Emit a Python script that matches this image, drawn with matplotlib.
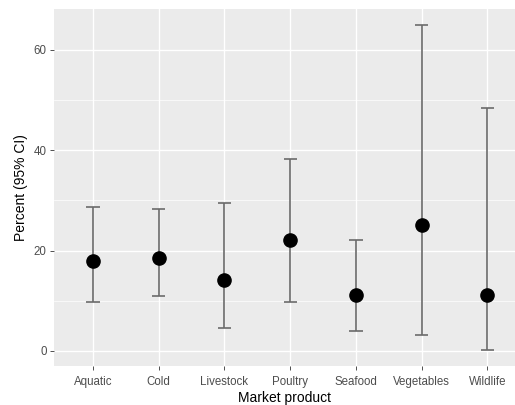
import matplotlib
matplotlib.use("Agg")
import numpy as np
from matplotlib import pyplot as plt
from matplotlib.ticker import MultipleLocator

# Values
products = ["Aquatic", "Cold", "Livestock", "Poultry", "Seafood", "Vegetables", "Wildlife"]
percent = [17.9, 18.5, 14.2, 22.1, 11.2, 25.1, 11.2]
ci_low = [9.8, 11.0, 4.5, 9.8, 4.0, 3.2, 0.2]
ci_high = [28.6, 28.2, 29.4, 38.3, 22.0, 65.0, 48.4]

plt.rcParams["font.family"] = ["Liberation Sans", "DejaVu Sans"]

fig = plt.figure(figsize=(5.15, 4.05), dpi=100)
ax = fig.add_axes([0.104, 0.096, 0.896, 0.883])
ax.set_facecolor("#EBEBEB")

x = np.arange(1, len(products) + 1)
err_color = "#6b6b6b"
ax.vlines(x, ci_low, ci_high, color=err_color, linewidth=1.2, zorder=3)
ax.hlines(ci_low, x - 0.1, x + 0.1, color=err_color, linewidth=1.2, zorder=3)
ax.hlines(ci_high, x - 0.1, x + 0.1, color=err_color, linewidth=1.2, zorder=3)
ax.plot(x, percent, "o", color="black", markersize=9.5, zorder=4)

ax.set_xlim(0.4, 7.42)
ax.set_ylim(-3.04, 68.24)
ax.set_xticks(x)
ax.set_xticklabels(products)
ax.yaxis.set_major_locator(MultipleLocator(20))
ax.yaxis.set_minor_locator(MultipleLocator(10))

ax.grid(which="major", color="white", linewidth=1.0)
ax.grid(which="minor", axis="y", color="white", linewidth=0.5)
ax.set_axisbelow(True)
for s in ax.spines.values():
    s.set_visible(False)

ax.tick_params(which="major", length=3, width=0.6, color="#333333",
               labelsize=8.3, labelcolor="#4D4D4D")
ax.tick_params(axis="x", pad=4)
ax.tick_params(axis="y", pad=2)
ax.tick_params(which="minor", length=0)

ax.set_xlabel("Market product", fontsize=10, color="black", labelpad=2)
ax.set_ylabel("Percent (95% CI)", fontsize=10, color="black", labelpad=4)

fig.savefig("out.png", dpi=100)
